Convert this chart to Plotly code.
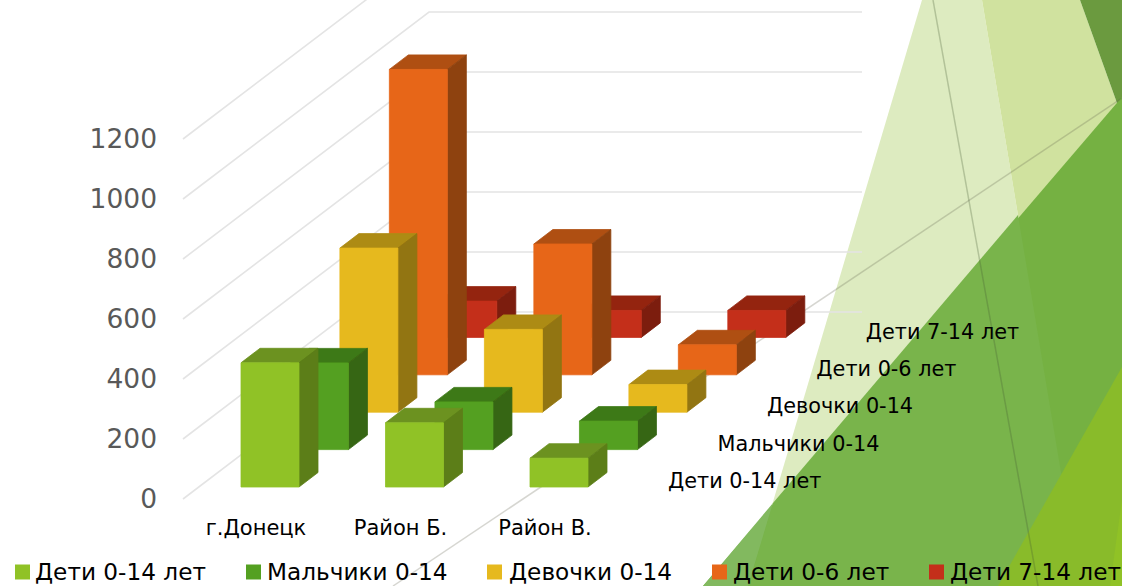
import plotly.graph_objects as go

# Chart data
categories = ["г.Донецк", "Район Б.", "Район В."]
series_names = ["Дети 0-14 лет", "Мальчики 0-14", "Девочки 0-14", "Дети 0-6 лет", "Дети 7-14 лет"]
children_0_14 = [414, 214, 96]
boys_0_14 = [289, 159, 95]
girls_0_14 = [547, 276, 92]
children_0_6 = [1018, 436, 100]
children_7_14 = [121, 90, 90]
value_ticks = [0, 200, 400, 600, 800, 1000, 1200]
legend_names = ["Дети 0-14 лет", "Мальчики 0-14", "Девочки 0-14", "Дети 0-6 лет", "Дети 7-14 лет"]

all_series = [children_0_14, boys_0_14, girls_0_14, children_0_6, children_7_14]
front_colors = ["#90C226", "#54A021", "#E6B91E", "#E76618", "#C42F1A"]
top_colors = ["#6C9220", "#3D7917", "#AD8B14", "#AF4F12", "#94240F"]
side_colors = ["#5C7E18", "#366614", "#927512", "#8E420F", "#7C1D0E"]

W, H = 1122, 586
PX_PER_CAT = 144.5     # horizontal pixels between categories
PX_PER_VAL = 0.3       # vertical pixels per unit of value
ORIGIN_X, ORIGIN_Y = 270.0, 487.0   # pixel of category 0, value 0, front row

# Oblique projection expressed in axis units
ROW_DX = 49.45 / PX_PER_CAT
ROW_DY = 37.4 / PX_PER_VAL
BAR_W = 58.0 / PX_PER_CAT
BAR_DX = 19.0 / PX_PER_CAT
BAR_DY = 14.5 / PX_PER_VAL


def ax_x(px):
    return (px - ORIGIN_X) / PX_PER_CAT


def ax_y(px):
    return (ORIGIN_Y - px) / PX_PER_VAL


def paper_path(points):
    parts = [f"{x / W:.5f} {1 - y / H:.5f}" for x, y in points]
    return "M " + " L ".join(parts) + " Z"


def backdrop(points, color):
    return dict(type="path", xref="paper", yref="paper", path=paper_path(points),
                fillcolor=color, line=dict(width=0), layer="below")


def rule(p0, p1, color, width):
    return dict(type="line", xref="paper", yref="paper",
                x0=p0[0] / W, y0=1 - p0[1] / H, x1=p1[0] / W, y1=1 - p1[1] / H,
                line=dict(color=color, width=width), layer="below")


# Facet-style slide decoration on the right
shapes = [
    backdrop([(922, 0), (982, 0), (1080, 586), (748, 586)], "#DDEBC0"),
    backdrop([(982, 0), (1080, 0), (1122, 117), (1122, 586), (1080, 586)], "#D0E29F"),
    backdrop([(1080, 0), (1122, 0), (1122, 117)], "#6B9A3F"),
    backdrop([(703, 586), (1122, 97), (1122, 586)], "#75B142"),
    backdrop([(773, 503), (1018, 215), (1080, 586), (748, 586)], "#79B44B"),
    backdrop([(703, 586), (773, 503), (748, 586)], "#82B95F"),
    backdrop([(998, 586), (1122, 367), (1122, 586)], "#89BB2A"),
    backdrop([(1110, 586), (1122, 500), (1122, 586)], "#90C226"),
    rule((393, 586), (1122, 98), "rgba(90,90,70,0.25)", 1.5),
    rule((933, 0), (1038, 586), "rgba(70,90,50,0.28)", 1.5),
]

fig = go.Figure()

# Walls of the 3D frame: side wall runs back, rear wall runs across
wall_front_x = ax_x(183)
wall_back_x = ax_x(429)
wall_right_x = ax_x(862)
wall_front_off = ax_y(499)
wall_back_off = ax_y(312)
grid_x, grid_y = [], []
for v in value_ticks:
    grid_x += [wall_front_x, wall_back_x, wall_right_x, None]
    grid_y += [v + wall_front_off, v + wall_back_off, v + wall_back_off, None]
fig.add_trace(go.Scatter(x=grid_x, y=grid_y, mode="lines",
                         line=dict(color="#E4E4E4", width=1.6), hoverinfo="skip", showlegend=False))


def faces(cat, row, value):
    left = cat - BAR_W / 2 + row * ROW_DX
    right = left + BAR_W
    base = row * ROW_DY
    top = base + value
    front = ([left, right, right, left, left], [base, base, top, top, base])
    cap = ([left, right, right + BAR_DX, left + BAR_DX, left],
           [top, top, top + BAR_DY, top + BAR_DY, top])
    side = ([right, right + BAR_DX, right + BAR_DX, right, right],
            [base, base + BAR_DY, top + BAR_DY, top, base])
    return front, cap, side


# Bars, back row first so nearer rows cover farther ones
for row in reversed(range(len(all_series))):
    values = all_series[row]
    face_x = [[], [], []]
    face_y = [[], [], []]
    for cat, value in enumerate(values):
        for k, (fx, fy) in enumerate(faces(cat, row, value)):
            face_x[k] += fx + [None]
            face_y[k] += fy + [None]
    colors = [front_colors[row], top_colors[row], side_colors[row]]
    for k in (1, 2, 0):
        fig.add_trace(go.Scatter(x=face_x[k], y=face_y[k], mode="lines", fill="toself",
                                 fillcolor=colors[k], line=dict(color=colors[k], width=0.8),
                                 name=series_names[row], hoverinfo="skip", showlegend=False))

TEXT_FONT = "DejaVu Sans"

# Value axis labels
fig.add_trace(go.Scatter(x=[ax_x(157)] * len(value_ticks), y=[v + wall_front_off - 7 for v in value_ticks],
                         mode="text", text=[str(v) for v in value_ticks], textposition="middle left",
                         textfont=dict(family=TEXT_FONT, size=26.5, color="#595959"),
                         hoverinfo="skip", showlegend=False))

# Category labels
fig.add_trace(go.Scatter(x=[i + ax_x(256) for i in range(len(categories))],
                         y=[ax_y(530)] * len(categories), mode="text", text=categories,
                         textposition="middle center",
                         textfont=dict(family=TEXT_FONT, size=21, color="#000000"),
                         hoverinfo="skip", showlegend=False))

# Depth axis labels, one per row
fig.add_trace(go.Scatter(x=[ax_x(668) + i * ROW_DX for i in range(len(series_names))],
                         y=[ax_y(483) + i * ROW_DY for i in range(len(series_names))],
                         mode="text", text=series_names, textposition="middle right",
                         textfont=dict(family=TEXT_FONT, size=20.8, color="#000000"),
                         hoverinfo="skip", showlegend=False))

# Legend row along the bottom
swatch_px = [22.5, 253.5, 494.5, 719.5, 936.5]
text_px = [35, 267, 509, 733, 950]
for name, sx, tx, color in zip(legend_names, swatch_px, text_px, front_colors):
    fig.add_trace(go.Scatter(x=[ax_x(sx)], y=[ax_y(572)], mode="markers",
                             marker=dict(symbol="square", size=15, color=color, line=dict(width=0)),
                             hoverinfo="skip", showlegend=False))
    fig.add_trace(go.Scatter(x=[ax_x(tx)], y=[ax_y(574)], mode="text", text=[name],
                             textposition="middle right",
                             textfont=dict(family=TEXT_FONT, size=23.2, color="#000000"),
                             hoverinfo="skip", showlegend=False))

fig.update_layout(
    width=W, height=H, margin=dict(l=0, r=0, t=0, b=0),
    paper_bgcolor="#FFFFFF", plot_bgcolor="rgba(0,0,0,0)",
    shapes=shapes,
    xaxis=dict(range=[ax_x(0), ax_x(W)], visible=False, fixedrange=True),
    yaxis=dict(range=[ax_y(H), ax_y(0)], visible=False, fixedrange=True),
    showlegend=False,
)

fig.write_html("out.html", config=dict(displayModeBar=False))
